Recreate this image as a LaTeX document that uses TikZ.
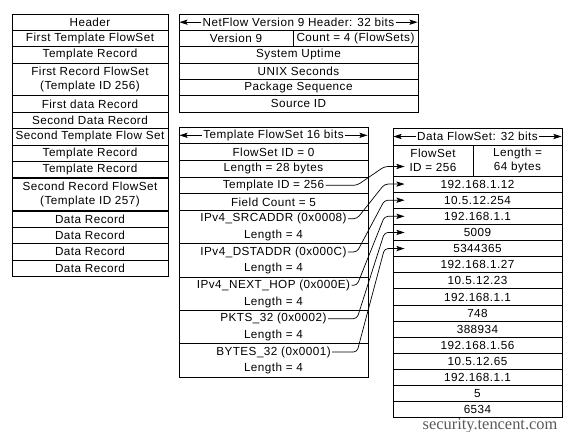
\documentclass[tikz,border=0pt]{standalone}
\usepackage{fontspec}
\setmainfont{Liberation Sans}[LetterSpace=4]
\newfontfamily\wmfont{Liberation Serif}
\usetikzlibrary{arrows.meta}
\newlength{\pxu}\setlength{\pxu}{0.03cm}
\newcommand\rowfont{\fontsize{10}{11.5}\selectfont}

\begin{document}
\begin{tikzpicture}[x=0.03cm, y=-0.03cm,
    cell/.style={draw, line width=0.8pt, inner sep=0pt, align=center, font=\rowfont, minimum height=16.4\pxu},
    pkt/.style={cell, minimum width=156\pxu},
    lbl/.style={inner sep=1pt, font=\rowfont, align=center},
    dim/.style={draw, line width=0.6pt, shorten >=0.8pt, -{Stealth[length=7pt,width=4.5pt,inset=1.5pt]}},
    link/.style={draw, line width=0.6pt, rounded corners=3pt, -{Stealth[length=7pt,width=4.5pt,inset=1.5pt]}}
]
\useasboundingbox (0,0) rectangle (588,432);

% export packet
\node [pkt] (hdr) at (90,22.2) {Header};
\node [pkt] (tfs1) at (90,38.6) {First Template FlowSet};
\node [pkt] (trec1) at (90,54.9) {Template Record};
\node [pkt, minimum height=32.75\pxu] (dfs1) at (90,79.5) {First Record FlowSet\\(Template ID 256)};
\node [pkt] (drec1) at (90,104.1) {First data Record};
\node [pkt] (drec2) at (90,120.4) {Second Data Record};
\node [pkt] (tfs2) at (90,136.8) {Second Template Flow Set};
\node [pkt] (trec2) at (90,153.2) {Template Record};
\node [pkt] (trec3) at (90,169.6) {Template Record};
\node [pkt, minimum height=32.75\pxu] (dfs2) at (90,194.6) {Second Record FlowSet\\(Template ID 257)};
\node [pkt] (drec3) at (90,219.1) {Data Record};
\node [pkt] (drec4) at (90,235.4) {Data Record};
\node [pkt] (drec5) at (90,251.8) {Data Record};
\node [pkt] (drec6) at (90,268.2) {Data Record};

% header
\node [cell, minimum width=239\pxu] (nfbox) at (298.5,22.2) {};
\node [lbl] (nftitle) at (298.5,22.2) {NetFlow Version 9 Header: 32 bits};
\draw [dim] (nftitle.west) -- (nfbox.west);
\draw [dim] (nftitle.east) -- (nfbox.east);
\node [cell, minimum width=114\pxu] (ver) at (236,38.5) {Version 9};
\node [cell, minimum width=125\pxu] (cnt) at (355.5,38.5) {Count = 4 (FlowSets)};
\node [cell, minimum width=239\pxu] (uptime) at (298.5,54.8) {System Uptime};
\node [cell, minimum width=239\pxu] (unixsec) at (298.5,71.2) {UNIX Seconds};
\node [cell, minimum width=239\pxu] (seq) at (298.5,87.5) {Package Sequence};
\node [cell, minimum width=239\pxu] (srcid) at (298.5,103.8) {Source ID};

% template flowset
\node [draw, line width=0.8pt, minimum width=189\pxu, minimum height=250\pxu, inner sep=0pt] (tfbox) at (273.5,252) {};
\foreach \k in {1,2,3,4,5,7,9,11,13}
    \draw [line width=0.8pt] (179,{127+\k*16.667}) -- (368,{127+\k*16.667});
\foreach \k/\txt in {1/Template FlowSet 16 bits, 2/FlowSet ID = 0, 3/Length = 28 bytes,
        4/Template ID = 256, 5/Field Count = 5, 6/IPv4\_SRCADDR (0x0008), 7/Length = 4,
        8/IPv4\_DSTADDR (0x000C), 9/Length = 4, 10/IPv4\_NEXT\_HOP (0x000E), 11/Length = 4,
        12/PKTS\_32 (0x0002), 13/Length = 4, 14/BYTES\_32 (0x0001), 15/Length = 4}
    \node [lbl] (t\k) at (273.5,{127+(\k-0.5)*16.667}) {\txt};
\draw [dim] (t1.west) -- (t1.west -| tfbox.west);
\draw [dim] (t1.east) -- (t1.east -| tfbox.east);

% data flowset
\node [cell, minimum width=169\pxu, minimum height=17\pxu] (dfbox) at (477.5,136.5) {};
\node [lbl] (dftitle) at (477.5,136.5) {Data FlowSet: 32 bits};
\draw [dim] (dftitle.west) -- (dfbox.west);
\draw [dim] (dftitle.east) -- (dfbox.east);
\node [cell, minimum width=80\pxu, minimum height=31\pxu] (fsid) at (433,160.5) {FlowSet\\ID = 256};
\node [cell, minimum width=89\pxu, minimum height=31\pxu] (fslen) at (517.5,160.5) {Length =\\64 bytes};
\foreach \k/\val in {1/192.168.1.12, 2/10.5.12.254, 3/192.168.1.1, 4/5009, 5/5344365,
        6/192.168.1.27, 7/10.5.12.23, 8/192.168.1.1, 9/748, 10/388934,
        11/192.168.1.56, 12/10.5.12.65, 13/192.168.1.1, 14/5, 15/6534}
    \node [cell, minimum width=169\pxu, minimum height=16.13\pxu] (d\k) at (477.5,{176+(\k-0.5)*16.13}) {\val};

% template fields -> data values
\coordinate (stub) at (357,0);
\draw [link] (t4.east) -- (t4.east -| stub) -- ([xshift=-8\pxu,yshift=-6\pxu]fsid.west) -- ([xshift=12\pxu,yshift=-6\pxu]fsid.west);
\foreach \s/\d in {6/1, 8/2, 10/3, 12/4, 14/5}
    \draw [link] (t\s.east) -- (t\s.east -| stub) -- ([xshift=-8\pxu]d\d.west) -- ([xshift=12\pxu]d\d.west);

\node [font=\wmfont\fontsize{14}{14}\selectfont, text=black!65, inner sep=0pt] (wm) at (490,425.5) {security.tencent.com};
\end{tikzpicture}
\end{document}
